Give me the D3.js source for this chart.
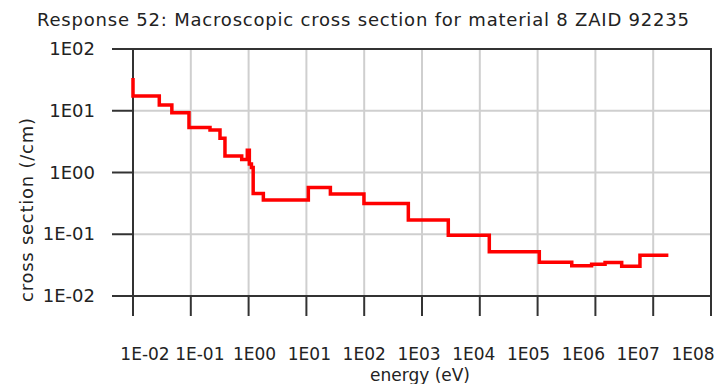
<!DOCTYPE html>
<html lang="en">
<head>
    <meta charset="UTF-8">
    <title>Response 52</title>
    <style>
        body { margin: 0; background: #fff; }
        text { font-family: "DejaVu Sans", sans-serif; fill: #222; }
    </style>
</head>
<body>
<svg width="720" height="384"></svg>
<script src="https://d3js.org/d3.v7.min.js"></script>
<script>
    // group lower bounds (eV) and macroscopic cross section (/cm)
    var energy = [0.01, 0.01, 0.0285, 0.047, 0.093, 0.215, 0.32, 0.39, 0.76, 0.95, 1.03, 1.12, 1.2, 1.8,
        10.8, 26, 99, 580, 2850, 14600, 1.07e5, 3.9e5, 8.6e5, 1.47e6, 2.85e6, 5.9e6, 1.83e7]
    var xsec = [34, 17.3, 12.4, 9.3, 5.37, 4.86, 3.57, 1.85, 1.62, 2.3, 1.37, 1.2, 0.458, 0.357,
        0.574, 0.447, 0.316, 0.17, 0.0966, 0.0519, 0.0352, 0.0308, 0.0327, 0.0349, 0.0304, 0.0458, 0.0458]
    var xTicks = [1e-2, 1e-1, 1e0, 1e1, 1e2, 1e3, 1e4, 1e5, 1e6, 1e7, 1e8]
    var yTicks = [1e2, 1e1, 1e0, 1e-1, 1e-2]
    var xLabels = ["1E-02", "1E-01", "1E00", "1E01", "1E02", "1E03", "1E04", "1E05", "1E06", "1E07", "1E08"]
    var yLabels = ["1E02", "1E01", "1E00", "1E-01", "1E-02"]

    var svg = d3.select("svg")
    // (not "top": that one is window.top)
    var pl = 133, pr = 711, pt = 49, pb = 296

    var x = d3.scaleLog().domain([1e-2, 1e8]).range([pl, pr])
    var y = d3.scaleLog().domain([1e-2, 1e2]).range([pb, pt])
    // labels are spread a bit narrower than the ticks in the original
    var xLab = d3.scaleLog().domain([1e-2, 1e8]).range([145, 693])

    // grid
    svg.append("g").selectAll("line")
        .data(xTicks.slice(1, -1))
        .enter().append("line")
        .attr("x1", d => x(d)).attr("x2", d => x(d))
        .attr("y1", pt).attr("y2", pb)
        .style("stroke", "#cfcfcf").style("stroke-width", 2)
    svg.append("g").selectAll("line")
        .data(yTicks.slice(1, -1))
        .enter().append("line")
        .attr("x1", pl).attr("x2", pr)
        .attr("y1", d => y(d)).attr("y2", d => y(d))
        .style("stroke", "#cfcfcf").style("stroke-width", 2)

    // frame
    svg.append("rect")
        .attr("x", pl).attr("y", pt)
        .attr("width", pr - pl).attr("height", pb - pt)
        .style("fill", "none").style("stroke", "#333").style("stroke-width", 2)

    // ticks
    svg.append("g").selectAll("line")
        .data(xTicks)
        .enter().append("line")
        .attr("x1", d => x(d)).attr("x2", d => x(d))
        .attr("y1", pb).attr("y2", pb + 20)
        .style("stroke", "#333").style("stroke-width", 2)
    svg.append("g").selectAll("line")
        .data(yTicks)
        .enter().append("line")
        .attr("x1", pl - 21).attr("x2", pl)
        .attr("y1", d => y(d)).attr("y2", d => y(d))
        .style("stroke", "#333").style("stroke-width", 2)

    // tick labels
    svg.append("g").selectAll("text")
        .data(xTicks)
        .enter().append("text")
        .attr("x", d => xLab(d)).attr("y", 360)
        .attr("text-anchor", "middle")
        .style("font-size", "17px")
        .text((d, i) => xLabels[i])
    svg.append("g").selectAll("text")
        .data(yTicks)
        .enter().append("text")
        .attr("x", 95).attr("y", d => y(d) + 6)
        .attr("text-anchor", "end")
        .style("font-size", "18px")
        .text((d, i) => yLabels[i])

    // step line
    var pts = energy.map((e, i) => [e, xsec[i]])
    var line = d3.line()
        .x(d => x(d[0]))
        .y(d => y(d[1]))
        .curve(d3.curveStepAfter)
    svg.append("path")
        .attr("d", line(pts))
        .style("fill", "none")
        .style("stroke", "#ff0000")
        .style("stroke-width", 3.5)

    // titles
    svg.append("text")
        .attr("x", 363).attr("y", 26)
        .attr("text-anchor", "middle")
        .attr("textLength", 652)
        .style("font-size", "18px")
        .text("Response 52: Macroscopic cross section for material 8 ZAID 92235")
    svg.append("text")
        .attr("x", 420).attr("y", 381)
        .attr("text-anchor", "middle")
        .style("font-size", "17px")
        .text("energy (eV)")
    svg.append("text")
        .attr("transform", "translate(33,210) rotate(-90)")
        .attr("text-anchor", "middle")
        .attr("textLength", 184)
        .style("font-size", "18px")
        .text("cross section (/cm)")
</script>
</body>
</html>
